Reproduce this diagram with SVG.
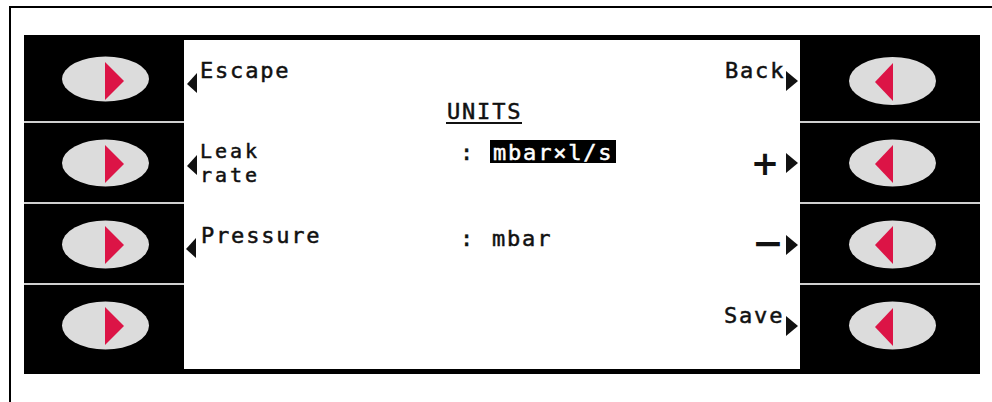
<svg xmlns="http://www.w3.org/2000/svg" width="992" height="402" viewBox="0 0 992 402">
<style>
.lbl{font-family:"DejaVu Sans Mono","Liberation Mono",monospace;font-size:22px;letter-spacing:1.8px;fill:#111;stroke:#111;stroke-width:0.5px}
.sm{font-size:20px;letter-spacing:3px}
.inv{fill:#fff;stroke:#fff}
.sym{font-family:"DejaVu Sans","Liberation Sans",sans-serif;font-weight:bold;fill:#111}
.key{fill:#dcdcdc}
.red{fill:#dc1446}
.sep{fill:#cfcfcf}
.ptr{fill:#111}
</style>
<defs>
<polygon id="triR" points="0,-19 19,0 0,19"/>
<polygon id="triL" points="0,-19 -18,0 0,19"/>
<polygon id="ptrL" points="10,-10 0,1 10,10"/>
<polygon id="ptrR" points="0,-10 12,0 0,10"/>
</defs>
<rect x="0" y="0" width="992" height="402" fill="#fff"/>
<g id="frame">
<rect x="9" y="6" width="983" height="2" fill="#000"/>
<rect x="9" y="6" width="2" height="396" fill="#000"/>
</g>
<g id="panel">
<rect x="24" y="35" width="956" height="339" fill="#000"/>
<rect x="24" y="121" width="160" height="2" class="sep"/>
<rect x="24" y="202" width="160" height="2" class="sep"/>
<rect x="24" y="283" width="160" height="2" class="sep"/>
<rect x="800" y="121" width="180" height="2" class="sep"/>
<rect x="800" y="202" width="180" height="2" class="sep"/>
<rect x="800" y="283" width="180" height="2" class="sep"/>
</g>
<g id="screen">
<rect x="184" y="40" width="616" height="329" fill="#fff"/>
</g>
<g id="btn-left-1"><ellipse cx="105.5" cy="79" rx="43.5" ry="22.5" class="key"/><use href="#triR" x="105" y="81" class="red"/></g>
<g id="btn-left-2"><ellipse cx="105.5" cy="163" rx="43.5" ry="23.5" class="key"/><use href="#triR" x="105" y="164" class="red"/></g>
<g id="btn-left-3"><ellipse cx="105.5" cy="244.5" rx="43.5" ry="24" class="key"/><use href="#triR" x="105" y="245" class="red"/></g>
<g id="btn-left-4"><ellipse cx="105.5" cy="325.5" rx="43.5" ry="24" class="key"/><use href="#triR" x="105" y="326" class="red"/></g>
<g id="btn-right-1"><ellipse cx="892.5" cy="81" rx="43.5" ry="24" class="key"/><use href="#triL" x="893" y="82" class="red"/></g>
<g id="btn-right-2"><ellipse cx="892.5" cy="163" rx="43.5" ry="23.5" class="key"/><use href="#triL" x="893" y="164" class="red"/></g>
<g id="btn-right-3"><ellipse cx="892.5" cy="244.5" rx="43.5" ry="24" class="key"/><use href="#triL" x="893" y="245" class="red"/></g>
<g id="btn-right-4"><ellipse cx="892.5" cy="325.5" rx="43.5" ry="24" class="key"/><use href="#triL" x="893" y="327" class="red"/></g>
<g id="label-escape"><use href="#ptrL" x="187" y="83" class="ptr"/><text x="200" y="78" class="lbl">Escape</text></g>
<g id="label-leak-rate"><use href="#ptrL" x="187" y="165" class="ptr"/><text x="200" y="158" class="lbl sm">Leak</text><text x="200" y="181.5" class="lbl sm">rate</text></g>
<g id="label-pressure"><use href="#ptrL" x="186" y="248" class="ptr"/><text x="201" y="243" class="lbl">Pressure</text></g>
<g id="label-back"><text x="725" y="78" class="lbl">Back</text><use href="#ptrR" x="786" y="81" class="ptr"/></g>
<g id="label-plus"><text x="765" y="175" text-anchor="middle" class="sym" font-size="34">+</text><use href="#ptrR" x="786" y="163" class="ptr"/></g>
<g id="label-minus"><text x="768" y="256" text-anchor="middle" class="sym" font-size="38">−</text><use href="#ptrR" x="786" y="245" class="ptr"/></g>
<g id="label-save"><text x="724" y="323" class="lbl">Save</text><use href="#ptrR" x="786" y="326" class="ptr"/></g>
<g id="title-units"><text x="447" y="119" class="lbl">UNITS</text><rect x="446" y="122" width="76" height="2" fill="#111"/></g>
<g id="value-leak"><text x="460" y="160" class="lbl">:</text><rect x="490" y="140" width="126" height="23" fill="#000"/><text x="493" y="160" class="lbl inv">mbar×l/s</text></g>
<g id="value-pressure"><text x="460" y="246" class="lbl">:</text><text x="492" y="246" class="lbl">mbar</text></g>
<g id="connectors"></g>
</svg>
